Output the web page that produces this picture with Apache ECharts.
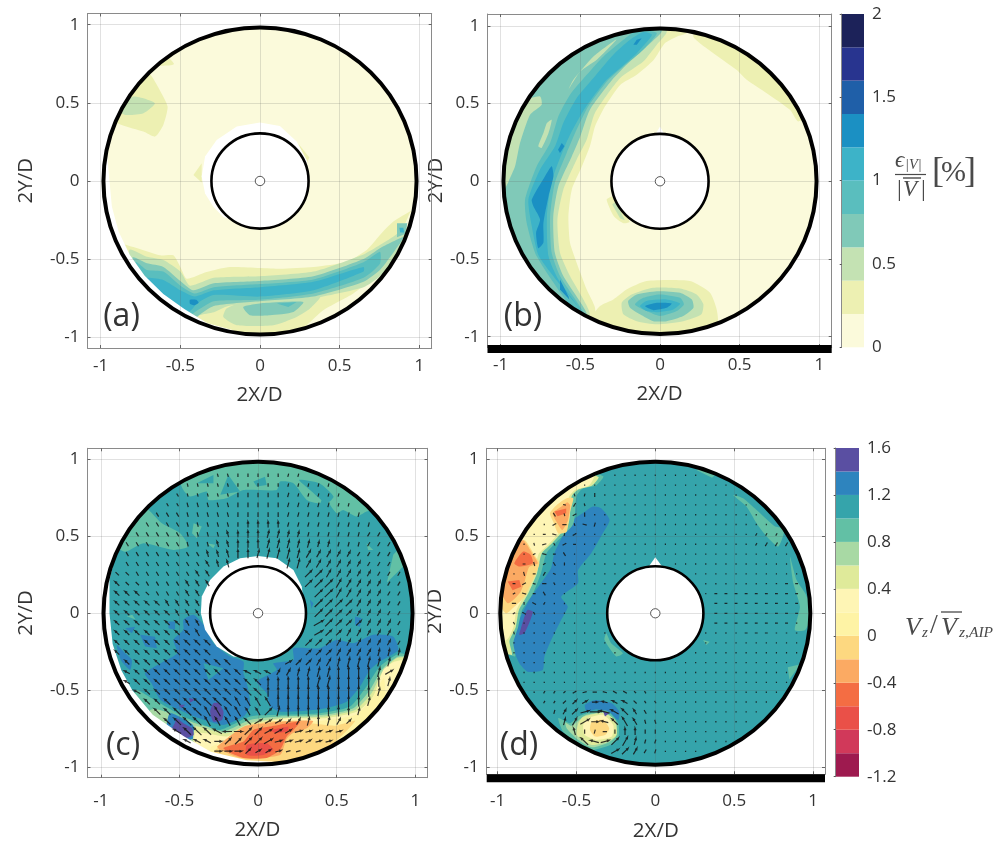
<!DOCTYPE html>
<html><head><meta charset="utf-8">
<style>html,body{margin:0;padding:0;background:#fff}#c{width:1001px;height:845px}</style>
<script src="https://cdn.jsdelivr.net/npm/echarts@6/dist/echarts.min.js"></script>
</head><body><div id="c"></div>
<script>
const axisTicks=[-1,-0.5,0,0.5,1];
const limitsA=[-1.083,1.078,-1.069,1.072];
const limitsB=[-1.083,1.078,-1.066,1.076];
const limitsC=[-1.085,1.078,-1.068,1.071];
const limitsD=[-1.069,1.076,-1.045,1.071];
const outerRadius=0.983, hubRadius=0.305, centerMark=0.03;
const errorLevels=[0,0.2,0.4,0.6,0.8,1,1.2,1.4,1.6,1.8,2];
const errorColors=['#FBFADB','#EDF0B2','#C4E2B3','#80C9B8','#5ABEBE','#3DB3C8','#1B90C3','#1F5FA8','#28348F','#1C2259'];
const speedLevels=[-1.2,-1,-0.8,-0.6,-0.4,-0.2,0,0.2,0.4,0.6,0.8,1,1.2,1.4,1.6];
const speedColors=['#9E1A4F','#D1395A','#EA5048','#F46D43','#FBAA63','#FDD880','#FEF3A5','#FEF5B5','#DFEA9A','#A8D9A4','#62C0A5','#35A4AB','#2E84BE','#5A4FA2'];
// level -1 = white (no data)
const contoursA=[
[1,[[-.65,.74],[-.56,.74],[-.54,.75],[-.6,.82],[-.58,.8]]],
[1,[[-.68,.67],[-.63,.583],[-.58,.476],[-.607,.359],[-.659,.284],[-.732,.316],[-.868,.359],[-.95,.4],[-.82,.58],[-.73,.72]]],
[2,[[-.795,.54],[-.66,.498],[-.732,.434],[-.847,.423],[-.9,.46]]],
[1,[[-.366,.113],[-.418,.038],[-.366,-.01]]],
[1,[[.24,.24],[.31,.15],[.29,.11]]],
[1,[[.95,-.19],[.837,-.26],[.753,-.346],[.67,-.442],[.544,-.517],[.335,-.551],[.126,-.562],[-.188,-.551],[-.335,-.583],[-.46,-.626],[-.5,-.551],[-.544,-.476],[-.628,-.476],[-.795,-.423],[-.9,-.4],[-.8,-.7],[-.5,-.92],[-.2,-1.02],[.21,-.985],[.397,-.827],[.586,-.72],[.711,-.613],[.837,-.442],[.94,-.207]]],
[2,[[-.21,-.816],[-.105,-.774],[.126,-.752],[.377,-.741],[.314,-.816],[.23,-.87],[.084,-.923],[-.146,-.923],[-.23,-.87]]],
[3,[[-.105,-.806],[.042,-.78],[.272,-.774],[.21,-.838],[.063,-.859],[-.063,-.859]]],
[4,[[.105,-.784],[.23,-.774],[.178,-.806]]],
[2,[[.92,-.271],[.86,-.34],[.753,-.41],[.65,-.47],[.335,-.58],[0,-.61],[-.29,-.62],[-.44,-.67],[-.5,-.58],[-.607,-.506],[-.71,-.485],[-.82,-.44],[-.8,-.68],[-.5,-.92],[-.41,-.9],[-.38,-.86],[-.29,-.84],[-.2,-.8],[0,-.78],[.335,-.75],[.65,-.68],[.753,-.61],[.86,-.47],[.92,-.33]]],
[3,[[.9,-.36],[.753,-.43],[.65,-.50],[.335,-.61],[0,-.64],[-.29,-.655],[-.42,-.70],[-.5,-.64],[-.607,-.55],[-.71,-.527],[-.8,-.49],[-.8,-.7],[-.5,-.92],[-.40,-.87],[-.29,-.80],[0,-.77],[.335,-.74],[.65,-.645],[.753,-.57],[.85,-.44]]],
[3,[[.86,-.27],[.925,-.27],[.91,-.34],[.86,-.36]]],
[4,[[.753,-.453],[.65,-.52],[.335,-.63],[0,-.66],[-.29,-.68],[-.41,-.72],[-.5,-.67],[-.607,-.58],[-.71,-.57],[-.78,-.52],[-.78,-.72],[-.5,-.9],[-.41,-.84],[-.29,-.77],[0,-.76],[.335,-.72],[.65,-.62],[.753,-.53]]],
[5,[[.65,-.55],[.335,-.645],[0,-.68],[-.29,-.70],[-.41,-.74],[-.5,-.70],[-.607,-.634],[-.71,-.62],[-.72,-.65],[-.6,-.78],[-.45,-.84],[-.39,-.78],[-.29,-.73],[0,-.74],[.335,-.70],[.65,-.58]]],
[5,[[.875,-.30],[.90,-.3],[.905,-.33],[.88,-.33]]],
[6,[[-.44,-.76],[-.40,-.76],[-.385,-.78],[-.41,-.795],[-.44,-.785]]],
[-1,[[-1.05,.17],[-.96,.169],[-.945,0],[-.93,-.164],[-.888,-.323],[-.818,-.472],[-.724,-.607],[-.607,-.724],[-.475,-.82],[-.33,-.91],[-.168,-.955],[-.15,-1.05],[-.7,-1.05],[-1.05,-.5]]],
[-1,[[0,.374],[.125,.352],[.23,.252],[.293,.135],[.31,0],[0,-.31],[-.23,-.23],[-.293,-.165],[-.345,-.08],[-.366,.028],[-.345,.156],[-.272,.263],[-.146,.348]]]
];
const contoursB=[
[1,[[.167,.953],[.105,.93],[.03,.888],[-.04,.78],[-.146,.685],[-.25,.62],[-.345,.482],[-.408,.353],[-.44,.225],[-.49,.096],[-.554,-.054],[-.575,-.225],[-.565,-.396],[-.523,-.525],[-.46,-.696],[-.408,-.814],[-.42,-.95],[-.8,-.8],[-1.1,0],[-.8,.8],[0,1.06],[.167,1.0]]],
[1,[[.209,.93],[.335,.824],[.48,.717],[.544,.653],[.67,.567],[.816,.46],[.868,.385],[.95,.45],[.8,.7],[.5,.92],[.25,1.0]]],
[1,[[-.377,-.803],[-.293,-.76],[-.21,-.696],[-.084,-.642],[.188,-.642],[.314,-.717],[.356,-.824],[.36,-.92],[.2,-1.02],[-.2,-1.02],[-.45,-.92]]],
[1,[[-.335,-.118],[-.29,-.225],[-.23,-.27],[-.19,-.26],[-.3,-.1]]],
[2,[[-.3,-.15],[-.25,-.24],[-.22,-.25],[-.28,-.13]]],
[2,[[.04,.953],[-.02,.878],[-.105,.77],[-.25,.664],[-.408,.44],[-.46,.268],[-.523,.14],[-.607,-.054],[-.644,-.246],[-.628,-.46],[-.565,-.61],[-.44,-.856],[-.6,-.85],[-.9,-.6],[-1.08,0],[-.85,.7],[-.3,1.0],[.04,1.02]]],
[2,[[-.24,-.78],[-.178,-.728],[-.042,-.685],[.126,-.69],[.23,-.728],[.272,-.79],[.26,-.856],[.146,-.9],[-.02,-.92],[-.146,-.9],[-.23,-.856]]],
[3,[[.01,.96],[-.084,.867],[-.21,.75],[-.30,.653],[-.44,.46],[-.50,.29],[-.554,.16],[-.638,-.032],[-.67,-.225],[-.66,-.46],[-.607,-.61],[-.46,-.856],[-.7,-.75],[-.9,-.45],[-.99,-.1],[-.95,0],[-.91,.096],[-.879,.246],[-.816,.428],[-.743,.492],[-.753,.546],[-.86,.53],[-.75,.72],[-.3,.97],[0,1.0]]],
[3,[[-.2,-.77],[-.146,-.728],[-.02,-.707],[.126,-.717],[.2,-.76],[.21,-.814],[.146,-.867],[.042,-.9],[-.042,-.9],[-.126,-.856],[-.188,-.814]]],
[2,[[-.272,.914],[-.418,.803],[-.544,.653],[-.575,.589],[-.5,.707],[-.397,.782]]],
[2,[[-.71,.375],[-.68,.396],[-.70,.31],[-.743,.214],[-.764,.225],[-.732,.31]]],
[4,[[-.02,.953],[-.105,.846],[-.23,.739],[-.324,.653],[-.45,.482],[-.533,.31],[-.586,.182],[-.66,-.01],[-.69,-.225],[-.68,-.46],[-.628,-.61],[-.48,-.846],[-.55,-.82],[-.774,-.482],[-.837,-.268],[-.847,-.118],[-.774,.096],[-.69,.246],[-.638,.418],[-.565,.557],[-.46,.685],[-.355,.803],[-.23,.91],[-.146,.97]]],
[4,[[-.157,-.792],[-.105,-.75],[0,-.728],[.126,-.75],[.15,-.792],[.105,-.835],[0,-.867],[-.084,-.835]]],
[5,[[-.05,.942],[-.146,.824],[-.25,.728],[-.345,.642],[-.47,.471],[-.554,.321],[-.607,.203],[-.68,0],[-.71,-.225],[-.70,-.482],[-.638,-.632],[-.5,-.824],[-.544,-.77],[-.76,-.482],[-.805,-.289],[-.826,-.118],[-.753,.075],[-.659,.225],[-.607,.375],[-.523,.535],[-.418,.664],[-.293,.814],[-.188,.91],[-.105,.96]]],
[5,[[-.126,-.803],[-.084,-.77],[.042,-.76],[.126,-.786],[.084,-.824],[-.02,-.842],[-.084,-.835]]],
[6,[[-.68,.096],[-.669,.032],[-.70,-.096],[-.732,-.268],[-.732,-.396],[-.764,-.43],[-.778,-.332],[-.753,-.246],[-.795,-.161],[-.805,-.118],[-.722,.032]]],
[6,[[-.617,.246],[-.60,.225],[-.628,.182],[-.64,.203]]],
[6,[[-.115,.92],[-.146,.878],[-.167,.878],[-.146,.91]]],
[6,[[-.628,-.632],[-.575,-.739],[-.569,-.76],[-.628,-.696]]],
[6,[[-.094,-.803],[-.02,-.782],[.073,-.786],[.042,-.814],[-.042,-.829]]],
[-1,[[0,.353],[.03,.3],[-.03,.3]]]
];
const contoursC=[
[10,[[-.475,.80],[-.432,.758],[-.326,.79],[-.316,.736],[-.2,.747],[-.093,.80],[.119,.80],[.14,.855],[.225,.844],[.31,.736],[.394,.714],[.415,.758],[.5,.65],[.542,.671],[.627,.628],[.69,.66],[.75,.68],[.5,.9],[0,1.02],[-.3,.96],[-.5,.88]]],
[11,[[-.189,.898],[-.114,.79],[-.24,.77]]],
[11,[[-.03,.855],[.044,.887],[.055,.833],[-.008,.823]]],
[11,[[-.284,.898],[-.284,.844],[-.39,.844]]],
[11,[[.26,.866],[.39,.844],[.48,.758],[.436,.714],[.33,.80]]],
[10,[[-.686,.66],[-.612,.584],[-.496,.52],[-.443,.433],[-.538,.411],[-.729,.455],[-.845,.40],[-.92,.45],[-.75,.72]]],
[10,[[-.41,.584],[-.358,.563],[-.39,.487],[-.42,.52]]],
[10,[[-.326,.455],[-.273,.444],[-.284,.422]]],
[10,[[.69,.455],[.733,.411],[.70,.411]]],
[10,[[-.835,-.02],[-.78,-.04],[-.8,-.01]]],
[10,[[.82,.2],[.97,.35],[.97,.5],[.86,.38]]],
[12,[[-.475,-.043],[-.41,-.01],[-.337,-.087],[-.284,-.195],[-.178,-.281],[-.093,-.314],[-.093,-.39],[-.07,-.46],[-.05,-.6],[-.093,-.671],[-.22,-.725],[-.38,-.68],[-.475,-.64],[-.62,-.563],[-.678,-.455],[-.72,-.39],[-.6,-.314],[-.515,-.26],[-.538,-.173],[-.475,-.108]]],
[11,[[-.347,-.325],[-.22,-.357],[-.316,-.433]]],
[12,[[.225,-.227],[.394,-.227],[.5,-.173],[.606,-.195],[.733,-.14],[.86,-.152],[.892,-.238],[.775,-.314],[.712,-.368],[.648,-.476],[.564,-.574],[.394,-.623],[.14,-.639],[.076,-.606],[.055,-.52],[-.008,-.444],[.119,-.368],[.097,-.325],[.225,-.303]]],
[12,[[-.898,-.206],[-.845,-.26],[-.803,-.303],[-.814,-.368],[-.867,-.314],[-.888,-.26]]],
[12,[[-.75,-.14],[-.655,-.152],[-.644,-.227],[-.718,-.216]]],
[12,[[-.845,-.097],[-.782,-.087],[-.803,-.13]]],
[12,[[-.57,-.054],[-.528,-.054],[-.528,-.108],[-.57,-.097]]],
[12,[[.617,-.022],[.659,-.032],[.648,-.087],[.617,-.076]]],
[12,[[.33,.087],[.352,.065],[.34,.03]]],
[10,[[.903,-.26],[.775,-.346],[.69,-.476],[.585,-.606],[.394,-.649],[.14,-.66],[-.05,-.671],[-.24,-.758],[-.347,-.725],[-.475,-.671],[-.623,-.584],[-.676,-.552],[-.78,-.498],[-.8,-.7],[-.3,-1.02],[.3,-1.02],[.75,-.78],[1,-.3]]],
[9,[[.892,-.281],[.786,-.368],[.712,-.498],[.606,-.617],[.415,-.66],[.14,-.671],[-.05,-.693],[-.22,-.768],[-.326,-.736],[-.40,-.714],[-.623,-.628],[-.686,-.628],[-.7,-.75],[-.3,-1.02],[.3,-1.02],[.75,-.78],[1,-.3]]],
[12,[[-.56,-.65],[-.42,-.72],[-.39,-.8],[-.48,-.83],[-.58,-.77]]],
[8,[[.881,-.292],[.786,-.39],[.722,-.52],[.617,-.628],[.415,-.671],[.14,-.682],[-.05,-.714],[-.2,-.78],[-.305,-.758],[-.40,-.736],[-.41,-.85],[-.3,-1.02],[.3,-1.02],[.75,-.78],[1,-.3]]],
[7,[[.87,-.314],[.797,-.368],[.733,-.54],[.627,-.639],[.415,-.682],[.182,-.682],[-.03,-.725],[-.2,-.80],[-.326,-.78],[-.4,-.78],[-.4,-.85],[-.3,-1.02],[.3,-1.02],[.75,-.78],[1,-.3]]],
[6,[[.80,-.42],[.72,-.56],[.62,-.66],[.40,-.70],[.2,-.70],[0,-.74],[-.15,-.83],[-.3,-.87],[-.28,-1],[.1,-1.02],[.55,-.88],[.8,-.6]]],
[5,[[.617,-.70],[.49,-.73],[.3,-.71],[.1,-.70],[-.06,-.73],[-.2,-.84],[-.28,-.9],[-.1,-1],[.2,-1],[.45,-.87]]],
[4,[[-.09,-.735],[.055,-.714],[.2,-.70],[.35,-.70],[.31,-.747],[.22,-.78],[.18,-.82],[.14,-.92],[-.11,-.94],[-.24,-.887],[-.26,-.866]]],
[3,[[-.03,-.758],[.076,-.736],[.267,-.703],[.225,-.758],[.182,-.80],[.14,-.887],[.055,-.94],[-.093,-.94],[-.22,-.877],[-.093,-.833]]],
[2,[[-.072,-.855],[.055,-.844],[.097,-.887],[.034,-.92],[-.072,-.92]]],
[2,[[.076,-.758],[.193,-.736],[.193,-.768],[.11,-.78]]],
[13,[[-.517,-.682],[-.475,-.714],[-.42,-.747],[-.41,-.79],[-.475,-.812],[-.55,-.758],[-.53,-.714]]],
[13,[[-.284,-.584],[-.25,-.584],[-.22,-.638],[-.23,-.693],[-.284,-.703],[-.305,-.638]]],
[13,[[-.506,-.595],[-.464,-.595],[-.485,-.617]]],
[13,[[-.44,-.55],[-.4,-.56],[-.43,-.58]]],
[-1,[[-1.05,.45],[-.9,.41],[-.945,.216],[-.945,0],[-.925,-.2],[-.87,-.37],[-.8,-.5],[-.67,-.66],[-.47,-.8],[-.3,-.9],[-.07,-.955],[.1,-.965],[.1,-1.05],[-.7,-1.05],[-1.05,-.5]]],
[-1,[[0,.372],[.119,.357],[.225,.281],[.278,.173],[.3,0],[0,-.3],[-.157,-.281],[-.263,-.216],[-.337,-.108],[-.364,0],[-.358,.108],[-.305,.216],[-.22,.303],[-.114,.357]]]
];
const contoursD=[
[10,[[.494,.768],[.557,.747],[.642,.671],[.76,.563],[.82,.55],[.78,.433],[.706,.498],[.642,.584],[.578,.693]]],
[10,[[.26,.93],[.36,.88],[.38,.9],[.3,.95]]],
[10,[[.854,.368],[.896,.216],[.95,.13],[1,0],[.95,-.108],[.885,-.108],[.917,.043],[.875,.195]]],
[10,[[.84,-.35],[.92,-.33],[.85,-.43]]],
[10,[[-.311,-.13],[-.28,-.195],[-.205,-.26],[-.248,-.28],[-.322,-.173]]],
[10,[[.303,-.173],[.345,-.184],[.324,-.206]]],
[12,[[-.396,.693],[-.343,.682],[-.29,.606],[-.333,.519],[-.406,.39],[-.49,.281],[-.49,.195],[-.597,.108],[-.555,.043],[-.597,-.043],[-.66,-.173],[-.703,-.281],[-.714,-.368],[-.81,-.379],[-.862,-.325],[-.905,-.216],[-.905,-.173],[-.873,-.065],[-.799,.087],[-.725,.195],[-.661,.292],[-.64,.39],[-.566,.54],[-.523,.606],[-.46,.649]]],
[10,[[-.33,.89],[-.375,.83],[-.46,.81],[-.50,.76],[-.52,.58],[-.63,.46],[-.69,.39],[-.725,.26],[-.775,.13],[-.845,.02],[-.87,-.09],[-.90,-.19],[-.89,-.28],[-1.05,-.2],[-1.05,.3],[-.6,.95]]],
[8,[[-.36,.885],[-.40,.83],[-.485,.805],[-.53,.76],[-.55,.585],[-.655,.455],[-.72,.39],[-.75,.26],[-.805,.13],[-.865,.02],[-.885,-.09],[-.925,-.18],[-.91,-.27],[-1.05,-.2],[-1.05,.3],[-.6,.95]]],
[7,[[-.39,.89],[-.42,.83],[-.51,.8],[-.55,.75],[-.57,.58],[-.675,.45],[-.74,.385],[-.77,.26],[-.825,.13],[-.88,.02],[-.9,-.09],[-.94,-.17],[-1.05,-.2],[-1.05,.3],[-.6,.95]]],
[5,[[-.562,.747],[-.52,.747],[-.54,.66],[-.562,.53],[-.615,.52],[-.647,.595],[-.668,.65],[-.625,.703]]],
[4,[[-.56,.72],[-.54,.7],[-.555,.6],[-.59,.54],[-.63,.6],[-.65,.65],[-.6,.69]]],
[3,[[-.64,.66],[-.565,.68],[-.565,.65],[-.62,.63]]],
[5,[[-.83,.476],[-.767,.379],[-.735,.325],[-.777,.216],[-.83,.108],[-.894,.043],[-.947,0],[-1,.087],[-1,.216],[-.905,.39]]],
[4,[[-.84,.476],[-.775,.379],[-.745,.325],[-.8,.3],[-.83,.2],[-.86,.13],[-.935,.065],[-1,.2],[-.90,.38]]],
[3,[[-.84,.40],[-.79,.379],[-.777,.325],[-.862,.303],[-.894,.325]]],
[3,[[-.936,.206],[-.862,.216],[-.85,.173],[-.905,.15]]],
[13,[[-.81,.022],[-.777,.011],[-.788,-.032],[-.83,-.13],[-.862,-.14],[-.852,-.097],[-.83,-.022]]],
[12,[[-.446,-.595],[-.382,-.563],[-.277,-.584],[-.228,-.639],[-.235,-.693],[-.287,-.645],[-.372,-.623],[-.435,-.639]]],
[10,[[-.615,-.68],[-.541,-.713],[-.49,-.671],[-.426,-.645],[-.308,-.632],[-.235,-.713],[-.235,-.81],[-.287,-.855],[-.403,-.888],[-.498,-.843],[-.585,-.769]]],
[9,[[-.57,-.71],[-.53,-.73],[-.48,-.69],[-.44,-.66],[-.32,-.645],[-.25,-.70],[-.25,-.80],[-.30,-.84],[-.40,-.87],[-.49,-.82],[-.56,-.75]]],
[8,[[-.457,-.671],[-.33,-.645],[-.256,-.693],[-.245,-.79],[-.308,-.834],[-.403,-.855],[-.498,-.79],[-.488,-.713]]],
[7,[[-.425,-.68],[-.33,-.66],[-.266,-.725],[-.276,-.80],[-.372,-.822],[-.446,-.79],[-.457,-.725]]],
[5,[[-.403,-.704],[-.33,-.693],[-.292,-.747],[-.319,-.79],[-.382,-.80],[-.414,-.757]]],
[13,[[-.33,-.639],[-.293,-.648],[-.319,-.67]]],
[-1,[[0,.364],[.049,.295],[-.047,.295]]]
];
const quiverX=[-.96,-.896,-.832,-.768,-.704,-.64,-.576,-.512,-.448,-.384,-.32,-.256,-.192,-.128,-.064,0,.064,.128,.192,.256,.32,.384,.448,.512,.576,.64,.704,.768,.832,.896,.96];
const quiverY=[.96,.896,.832,.768,.704,.64,.576,.512,.448,.384,.32,.256,.192,.128,.064,0,-.064,-.128,-.192,-.256,-.32,-.384,-.448,-.512,-.576,-.64,-.704,-.768,-.832,-.896,-.96];
// heading letters: a=0deg, b=15deg ... g=90deg ... m=180deg; length digits are multiples of the unit below
const unitC=0.0075, unitD=0.009;
const headingC=[
"iiiiiiiihhhhhgggggfffffffffeeee","iiiiiiiihhhhhgggggfffffffffeeee","iiiiiiiihhhhhgggggfffffffffeeee",
"iiiiiiiihhhhhgggggfffffffffeeee","iiiiiiiihhhhhgggggfffffffffeeee","iiiiiiiihhhhhgggggfffffffffeeee","iiiiiiiihhhhhgggggfffffffffeeee",
"jiiiiiiihhhhhgggffffffffffeeeee","jiiiiiiihhhhhgggffffffffffeeeee","jiiiiiiiiihhhggfffffeeeeeeeeeee",
"jjiiiiiiiiihhhggffffeeeeeeeeeee","jjjiiiiiiiiihhhhggeeddeeeeeeeee","jjjjiiiiiiiiiihhggeedddeeeeeeef",
"jjjjjiiiiiiiihhhggdddddeeeeeeef","jjjjjjiiiiiihhhhggdddddddeeeeee","jjjjjjjiiiiihhhhggcccddddeeeeee",
"jjjjjjjjiiiihhhhggccccddddeeeee","jjjjjjjjjiiihhhhggccccddeeeeeee","jjjjjjjjjjjjkkkkggccdddeeeeeeef",
"kjjjjjjjjjjjkkkkkkccdddeeeeffff","kkjjjjjjjjjjjkkkkccddeefffffffe","kkkjjjjjjjjjjjkkkeeffffggggfccb",
"kkkjjjjjjjjjjjjjgggggffgggggfcb","kkkkjjjjjjjjjjjjgggggggggggfecb","kkkkjjjjjjjjjiiiigggggggggfecbb",
"kkkkkjjjjjiiiiiidfgggggggfecbbb","kkkkkkjjjjiiiijcccdefgfedcbbbbb","kkkkkkkkjjjkmaddcccbbbbbbbbbbbb",
"kkkkkkkkkkkaddddcbbbcbbbbabbbbb","kkkkkkkkkkkaaadccbbbbbaaaaaaaaa","aaaaaaaaaaaaaaaaaaaaaaaaaaaaaaa"];
const lengthC=[
"3333333333333333333333333333333","3333333333333333333333333333333","3333333333333333333333333333333",
"3333333333333444444333333333333","3333333344444444444444433333333","4444444444444444444444444444444",
"4444444444444455554444444444444","4444444444445566665544444444444","4444444444455667777665544444444",
"4444444444556777888776655444444","4444444444556778888877665544444","5444444445566666666788766554444",
"5544444455566666666889987655444","5555444455566666666899987655444","5555555555566666666899887655444",
"5555555555566666666899876555444","5555555555666666666889876655544","5555555556666666666878766655544",
"5555555566666666666777666655544","5555556666666666666666666666655","5555666666666666666666778887766",
"5555666666666666556678889998766","4556666666666677778889999998765","4556666677777788889999999987665",
"4456667788999888899999999876555","4445677899999977888888886654444","3445677899988877665678765443333",
"3344556789887788776655554443333","3333445566667788866655555333333","3333333333366665554444444333333","3333333333333333333333333333333"];
const headingD=[
"","","","ggggggghfg","gggggglehg","gggggihcgg","gggggcahlfgggggggggggggggggeeeg",
"ggggalfchggggggggggggggggeeeeeg","ggghbicagggggggggggggggggeeeeeg","gggclaigg","ggahcigg","gghaekggggggggggggggggggggggggg",
"gaclaiggggggggggggggggggggaaaaa","gclaiggggggggggggggggaaaaaaaaaa","hagkeggggggggggggggggaaaaaaaaaa","eckigggggggggggggggggaaaaaaaaaa",
"gigggggggggggggggggggaaaaaaaaaa","ghgggggggggggggggggggggaaaaaaaa","","","","","",
"ggggeedcbalkkjii","ggggeeddcalkkjii","ggggffedbalkjiih","ggggfffecaljiihh","ggggggghgfagggggg","gggghhijjlbdefff","gggghijjklbcdeef",""];
const lengthD=[
"","","","1111111223","1111112321","1111132331","1111133233111111111111111111222",
"1111232311111111111111111222331","1112323211111111111111111233321","111232311","1123232","1132321",
"1232321111111111111111111111222","1232311111111111111112222222222","2323211111111111111112222222222","3232111111111111111112222222222",
"1211111111111111111112222222211","121111111111111111111111222111","","","","","",
"111122233333322","1111223444444322","1111234567766432","1111345675567533","1111355533335533","1111346776677533","1111345667766533",""];
const textColor='#333333', boxColor='#8a8a8a', gridColor='rgba(90,90,90,0.18)';

function decodeQuiver(headings,lengths,rIn,unit){
  const out=[];
  quiverY.forEach((y,j)=>quiverX.forEach((x,i)=>{
    const r=Math.hypot(x,y); if(r>0.945||r<rIn) return;
    const code=(headings[j]||'').charCodeAt(i), a=(isNaN(code)?6:code-97)*Math.PI/12;
    const d=(lengths[j]||'').charAt(i), L=(d===''?1:+d)*unit;
    out.push([x,y,L*Math.cos(a),L*Math.sin(a)]);
  }));
  return out;
}
const grids=[
 {left:87.5,top:13.5,width:344.2,height:334.5},
 {left:487.5,top:14,width:344.2,height:333},
 {left:87.5,top:448.3,width:340,height:329.4},
 {left:486.7,top:448.3,width:338.3,height:326},
 {left:841.7,top:14,width:22.3,height:333.3},
 {left:835.7,top:448,width:23.3,height:328.7}
];
const lims=[limitsA,limitsB,limitsC,limitsD];
const tick={show:true,inside:true,length:3,customValues:axisTicks,lineStyle:{color:'#666',width:1}};
const xLabelMargin=[10,10,15,18], xNameGap=[37,37,42,46], yNameGap=[51,30,51,30];
const xAxes=[],yAxes=[],series=[];
lims.forEach((l,g)=>{
  const lab={fontFamily:'Open Sans',fontSize:17,color:textColor,customValues:axisTicks,margin:xLabelMargin[g],formatter:v=>String(v)};
  xAxes.push({type:'value',gridIndex:g,min:l[0],max:l[1],z:4,name:'2X/D',nameLocation:'middle',nameGap:xNameGap[g],nameTextStyle:{fontFamily:'Open Sans',fontSize:20.5,color:textColor},
    axisLine:{show:true,onZero:false,lineStyle:{color:boxColor}},axisTick:tick,axisLabel:lab,splitLine:{show:true,lineStyle:{color:gridColor,width:1}}});
  yAxes.push({type:'value',gridIndex:g,min:l[2],max:l[3],z:4,name:'2Y/D',nameLocation:'middle',nameGap:yNameGap[g],nameTextStyle:{fontFamily:'Open Sans',fontSize:20.5,color:textColor},
    axisLine:{show:true,onZero:false,lineStyle:{color:boxColor}},axisTick:tick,axisLabel:Object.assign({},lab,{margin:8}),splitLine:{show:true,lineStyle:{color:gridColor,width:1}}});
});
// colour-bar axes
const cbGrid=[[4,0,2,0.5],[5,-1.2,1.6,0.4]];
cbGrid.forEach(([g,lo,hi,iv])=>{
  xAxes.push({type:'value',gridIndex:g,min:0,max:1,show:false});
  yAxes.push({type:'value',gridIndex:g,min:lo,max:hi,interval:iv,position:'right',z:4,
    axisLine:{show:true,lineStyle:{color:boxColor}},axisTick:{show:true,inside:true,length:2,lineStyle:{color:'#555'}},
    axisLabel:{fontFamily:'Open Sans',fontSize:17,color:textColor,margin:8,formatter:v=>String(+v.toFixed(1))},splitLine:{show:false}});
});
// secondary (top/right) axes carrying the mirrored tick marks
lims.forEach((l,g)=>{
  xAxes.push({type:'value',gridIndex:g,min:l[0],max:l[1],position:'top',z:4,axisLine:{show:true,onZero:false,lineStyle:{color:boxColor}},axisTick:tick,axisLabel:{show:false},splitLine:{show:false}});
  yAxes.push({type:'value',gridIndex:g,min:l[2],max:l[3],position:'right',z:4,axisLine:{show:true,onZero:false,lineStyle:{color:boxColor}},axisTick:tick,axisLabel:{show:false},splitLine:{show:false}});
});
function polySeries(g,layers,pal){
  return {type:'custom',coordinateSystem:'cartesian2d',xAxisIndex:g,yAxisIndex:g,clip:true,silent:true,z:2,animation:false,
    data:layers.map(()=>[0,0]),
    renderItem(p,api){const [lv,pts]=layers[p.dataIndex];
      return {type:'polygon',shape:{points:pts.map(q=>api.coord(q)),smooth:(lv>=0&&pts.length>4)?0.2:0},style:{fill:lv<0?'#fff':pal[lv]}};}};
}
function disc(g,r,fill,stroke,lw,z,extra){
  return {type:'custom',coordinateSystem:'cartesian2d',xAxisIndex:g,yAxisIndex:g,clip:!!extra,silent:true,z,animation:false,data:[[0,0,r]],
    renderItem(p,api){const c=api.coord([0,0]),s=api.size([api.value(2),api.value(2)]);
      const e=extra||0;
      return {type:'ellipse',shape:{cx:c[0],cy:c[1],rx:s[0]+e,ry:s[1]+e},style:{fill,stroke,lineWidth:lw}};}};
}
function quiverSeries(g,arr){
  return {type:'custom',coordinateSystem:'cartesian2d',xAxisIndex:g,yAxisIndex:g,clip:true,silent:true,z:3,animation:false,data:arr,
    renderItem(p,api){
      const x=api.value(0),y=api.value(1),u=api.value(2),v=api.value(3);
      const a=api.coord([x-u/2,y-v/2]),b=api.coord([x+u/2,y+v/2]);
      const dx=b[0]-a[0],dy=b[1]-a[1],L=Math.hypot(dx,dy)||1,h=L>5?2:0;
      const ux=dx/L,uy=dy/L;
      const pts=h?[a,b,[b[0]-h*ux-h*.5*uy,b[1]-h*uy+h*.5*ux],b,[b[0]-h*ux+h*.5*uy,b[1]-h*uy-h*.5*ux]]:[a,b];
      return {type:'polyline',shape:{points:pts},style:{stroke:'#141414',fill:null,lineWidth:1.2,opacity:.85}};}};
}
const baseCols=[errorColors[0],errorColors[0],speedColors[11],speedColors[11]];
[contoursA,contoursB,contoursC,contoursD].forEach((c,g)=>{
  series.push(disc(g,outerRadius,baseCols[g],null,0,1));
  series.push(polySeries(g,c,g<2?errorColors:speedColors));
  series.push(disc(g,outerRadius,'transparent','#fff',300,3,150));
  series.push(disc(g,hubRadius,'#fff',null,0,3));
  series.push(disc(g,outerRadius,'transparent','#000',4,6));
  series.push(disc(g,hubRadius,'transparent','#000',2.6,6));
  series.push(disc(g,centerMark,'#fff','#555',1,6));
});
series.push(quiverSeries(2,decodeQuiver(headingC,lengthC,0.37,unitC)));
series.push(quiverSeries(3,decodeQuiver(headingD,lengthD,0.335,unitD)));
function colorbar(g,levels,cols){
  return {type:'custom',coordinateSystem:'cartesian2d',xAxisIndex:g,yAxisIndex:g,silent:true,z:2,animation:false,
    data:cols.map((c,i)=>[0,levels[i],levels[i+1]]),
    renderItem(p,api){const a=api.coord([0,api.value(2)]),b=api.coord([1,api.value(1)]);
      return {type:'rect',shape:{x:a[0],y:a[1],width:b[0]-a[0],height:b[1]-a[1]},style:{fill:cols[p.dataIndex]}};}};
}
series.push(colorbar(4,errorLevels,errorColors));
series.push(colorbar(5,speedLevels,speedColors));
const T=(x,y,text,size,extra)=>Object.assign({type:'text',x,y,z:20,style:Object.assign({text,fontSize:size,fontFamily:'Open Sans',fill:textColor,align:'center',verticalAlign:'middle'},extra||{})});
const S=(i)=>({fontFamily:'Liberation Serif',fontStyle:i?'italic':'normal',fill:'#4a4a4a',align:'left'});
const L=(x1,y1,x2,y2,w)=>({type:'line',z:20,shape:{x1,y1,x2,y2},style:{stroke:'#4a4a4a',lineWidth:w||1.1}});
const graphics=[
 {type:'rect',z:20,shape:{x:487.5,y:345,width:344.2,height:8},style:{fill:'#000'}},
 {type:'rect',z:20,shape:{x:486.7,y:774.3,width:338.3,height:8},style:{fill:'#000'}},
 T(121.5,317,'(a)',32),T(523,317,'(b)',32),T(123,746,'(c)',32),T(519,746,'(d)',32),
 T(895,161,'ϵ',23,S(true)),T(905,165,'|V|',14.5,S(true)),L(895,174.5,926,174.5,1.2),
 T(897,190,'|',24,S(false)),T(903,190,'V',23,S(true)),L(903,178,921,178,1.4),T(921,190,'|',24,S(false)),
 T(932,173,'[',36,S(false)),T(941,173,'%',30,S(false)),T(964,173,']',36,S(false)),
 T(905,628,'V',26,S(true)),T(922,633,'z',15,S(true)),T(930,626,'/',28,S(false)),
 T(941,628,'V',26,S(true)),L(941,612,962,612,1.3),T(959,633,'z,AIP',15.5,S(true))
];
const chart=echarts.init(document.getElementById('c'),null,{renderer:'canvas'});
chart.setOption({animation:false,backgroundColor:'#fff',grid:grids.map(g=>Object.assign({show:false,containLabel:false},g)),xAxis:xAxes,yAxis:yAxes,series,graphic:{elements:graphics}});
</script></body></html>
